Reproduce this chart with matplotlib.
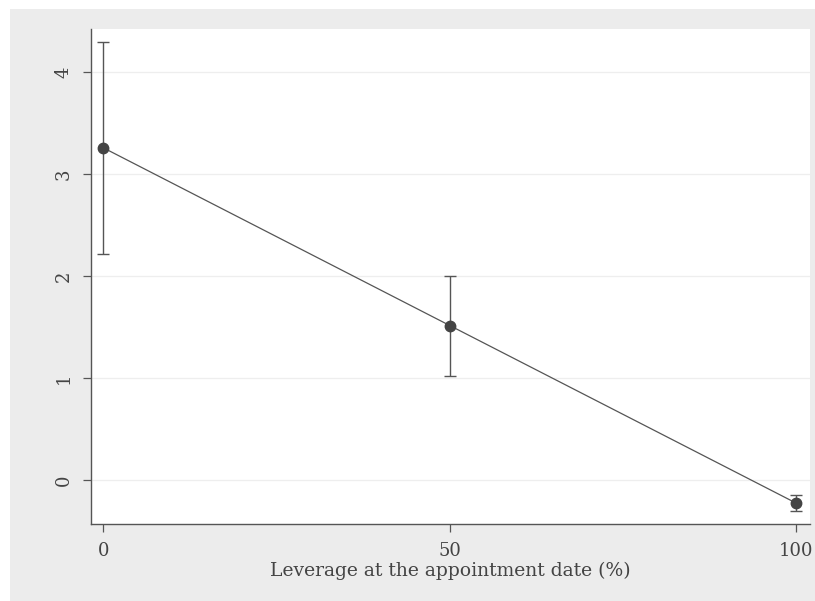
import matplotlib
matplotlib.use("Agg")
import matplotlib.pyplot as plt
from matplotlib.patches import Rectangle

# values
leverage = [0, 50, 100]
effect = [3.255, 1.513, -0.228]
ci_half = [1.04, 0.49, 0.08]

x_ticks = [0, 50, 100]
y_ticks = [0, 1, 2, 3, 4]

W, H = 815, 601
plt.rcParams["font.family"] = ["DejaVu Serif"]

fig = plt.figure(figsize=(W / 100, H / 100), dpi=100)
fig.patch.set_facecolor("white")
fig.patches.append(Rectangle((10 / W, 0), 1 - 10 / W, 1 - 9 / H,
                             transform=fig.transFigure, facecolor="#ececec",
                             edgecolor="none", zorder=-5))

ax = fig.add_axes([91 / W, (H - 524) / H, (810 - 91) / W, (524 - 29) / H])
ax.set_zorder(1)
ax.set_facecolor("white")

ax.plot(leverage, effect, color="#555555", linewidth=0.9, zorder=2)
ax.errorbar(leverage, effect, yerr=ci_half, fmt="none", ecolor="#555555",
            elinewidth=1.0, capsize=4.5, capthick=1.0, zorder=3)
ax.plot(leverage, effect, "o", color="#444444", markersize=7.5, zorder=4)

ax.set_xlim(-1.8, 101.95)
ax.set_ylim(-0.431, 4.42)
ax.set_xticks(x_ticks)
ax.set_yticks(y_ticks)
ax.grid(axis="y", color="#eeeeee", linewidth=0.9)
ax.set_axisbelow(True)

for s in ("top", "right"):
    ax.spines[s].set_visible(False)
for s in ("left", "bottom"):
    ax.spines[s].set_color("#555555")
    ax.spines[s].set_linewidth(1.0)

ax.tick_params(axis="both", colors="#555555", length=6, width=0.9,
               labelsize=13, labelcolor="#444444", pad=7)
for lab in ax.get_yticklabels():
    lab.set_rotation(90)
    lab.set_va("center")

fig.text(450 / W, 1 - 571 / H, "Leverage at the appointment date (%)",
         ha="center", va="center", fontsize=13.5, color="#444444")

fig.savefig("out.png", dpi=100)
